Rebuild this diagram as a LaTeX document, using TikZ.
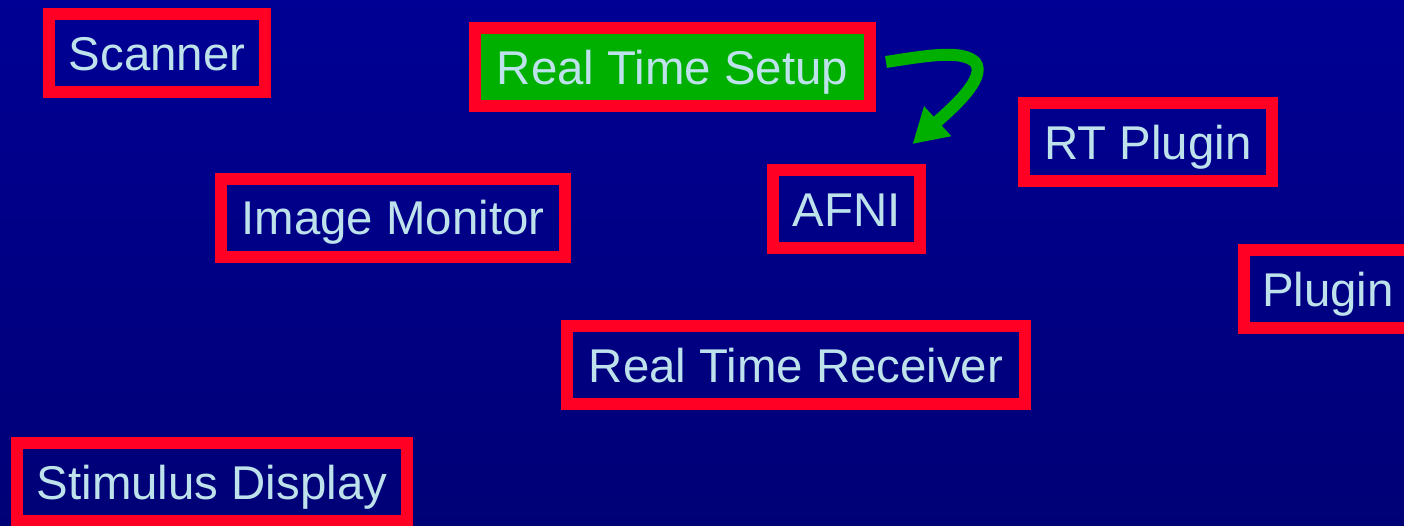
\documentclass[tikz,border=0pt]{standalone}
\usepackage{fontspec}
\setmainfont{Liberation Sans}
\usetikzlibrary{arrows.meta}

\definecolor{boxred}{RGB}{255,0,36}
\definecolor{setupgreen}{RGB}{0,176,0}
\definecolor{labeltext}{RGB}{190,226,236}
\definecolor{bgtop}{RGB}{0,0,148}
\definecolor{bgbottom}{RGB}{0,0,118}

\tikzset{
  part/.style={draw=boxred, line width=12pt, text=labeltext, inner sep=0pt,
    minimum height=78pt, text height=34pt, text depth=0pt,
    font=\fontsize{47.4}{56}\selectfont},
  flow/.style={setupgreen, line width=12pt, -{Triangle[length=34pt,width=38pt]}}
}

\begin{document}
\begin{tikzpicture}[x=1pt,y=-1pt]
    % background
    \useasboundingbox (0,0) rectangle (1404,525);
    \clip (0,0) rectangle (1404,525);
    \fill[top color=bgtop, bottom color=bgbottom] (0,0) rectangle (1404,525);

    % parts of the setup
    \node[part, minimum width=216pt] (scanner) at (157,53) {Scanner};
    \node[part, minimum width=395pt, fill=setupgreen] (rts) at (672.5,67) {Real Time Setup};
    \node[part, minimum width=248pt] (rtplugin) at (1148,142) {RT Plugin};
    \node[part, minimum width=344pt] (monitor) at (393,217.5) {Image Monitor};
    \node[part, minimum width=147pt] (afni) at (846.5,209) {AFNI};
    \node[part, minimum width=168pt] (plugin) at (1328,289) {Plugin};
    \node[part, minimum width=458pt] (receiver) at (796,365) {Real Time Receiver};
    \node[part, minimum width=390pt] (stimulus) at (212,482) {Stimulus Display};

    % arrow from setup down to afni
    \coordinate (from) at ([shift={(10,-5)}]rts.east);
    \coordinate (to) at ([shift={(66,-20)}]afni.north);
    \draw[flow] (from) .. controls (930,55) and (962,50) .. (975,62)
                        .. controls (988,78) and (950,110) .. (to);
\end{tikzpicture}
\end{document}
